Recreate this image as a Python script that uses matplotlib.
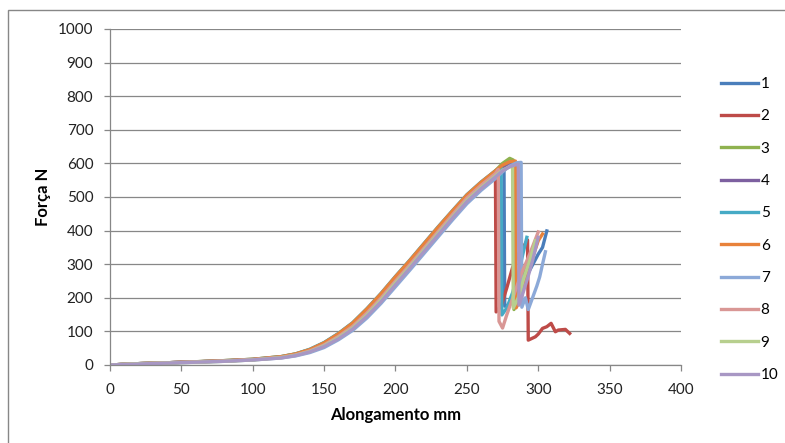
import matplotlib.pyplot as plt
from matplotlib.patches import Rectangle

plt.rcParams['font.family'] = ['Lato', 'DejaVu Sans']

# alongamento (mm) / força (N) per specimen
x1 = [0, 20, 50, 80, 100, 120, 130, 140, 150, 160, 170, 180, 190, 200, 210, 220, 230, 240, 250, 260, 270, 276, 276.5, 280, 285, 290, 295, 300, 303, 306]
f1 = [0, 4, 8, 12, 16, 24, 32, 44, 63, 89, 120, 160, 206, 256, 304, 354, 404, 453, 501, 540, 574, 596, 175, 180, 215, 250, 290, 330, 350, 399]

x2 = [0, 20, 50, 80, 100, 120, 130, 140, 150, 160, 170, 180, 190, 200, 210, 220, 230, 240, 250, 260, 266, 270, 270.5, 274, 278, 282, 286, 290, 292.5, 293, 295, 298, 300, 303, 306, 309, 312, 314, 319, 322]
f2 = [0, 4, 8, 12, 16, 23, 31, 43, 61, 87, 118, 158, 203, 253, 301, 351, 401, 450, 499, 537, 560, 578, 158, 175, 230, 290, 330, 355, 372, 74, 78, 84, 92, 109, 114, 124, 99, 104, 106, 94]

x3 = [0, 20, 50, 80, 100, 120, 130, 140, 150, 160, 170, 180, 190, 200, 210, 220, 230, 240, 250, 260, 270, 275, 280, 282.5, 283, 287, 290, 294, 297]
f3 = [0, 4, 8, 13, 17, 25, 33, 46, 66, 93, 125, 166, 212, 262, 310, 360, 410, 458, 505, 543, 578, 600, 615, 610, 165, 220, 270, 320, 350]

x4 = [0, 20, 50, 80, 100, 120, 130, 140, 150, 160, 170, 180, 190, 200, 210, 220, 230, 240, 250, 260, 270, 275, 280, 283, 283.5, 287, 291, 295, 299]
f4 = [0, 4, 8, 12, 16, 23, 30, 42, 60, 85, 115, 155, 200, 250, 298, 348, 398, 448, 497, 535, 570, 588, 600, 602, 178, 200, 260, 310, 365]

x5 = [0, 20, 50, 80, 100, 120, 130, 140, 150, 160, 170, 180, 190, 200, 210, 220, 230, 240, 250, 260, 270, 274, 274.5, 278, 282, 287, 292]
f5 = [0, 4, 8, 13, 17, 25, 33, 47, 67, 94, 126, 168, 214, 264, 312, 362, 412, 460, 507, 545, 578, 590, 149, 170, 215, 290, 380]

x6 = [0, 20, 50, 80, 100, 120, 130, 140, 150, 160, 170, 180, 190, 200, 210, 220, 230, 240, 250, 260, 270, 275, 280, 284, 284.5, 288, 292, 296, 300, 303]
f6 = [0, 4, 8, 13, 17, 25, 33, 46, 66, 93, 125, 167, 213, 263, 311, 361, 411, 459, 506, 544, 578, 595, 605, 607, 170, 200, 270, 320, 370, 390]

x7 = [0, 20, 50, 80, 100, 120, 130, 140, 150, 160, 170, 180, 190, 200, 210, 220, 230, 240, 250, 260, 270, 275, 280, 285, 288, 288.5, 291, 293, 296, 299, 301, 303, 305]
f7 = [0, 3, 7, 11, 15, 21, 27, 37, 52, 75, 103, 140, 184, 233, 282, 332, 382, 432, 480, 520, 555, 575, 592, 602, 603, 172, 200, 165, 200, 235, 262, 300, 337]

x8 = [0, 20, 50, 80, 100, 120, 130, 140, 150, 160, 170, 180, 190, 200, 210, 220, 230, 240, 250, 260, 270, 272, 272.5, 275, 278, 283, 288, 294, 300]
f8 = [0, 4, 8, 12, 16, 23, 30, 42, 60, 85, 115, 155, 200, 250, 298, 348, 398, 448, 497, 535, 570, 582, 130, 110, 150, 210, 270, 330, 396]

x9 = [0, 20, 50, 80, 100, 120, 130, 140, 150, 160, 170, 180, 190, 200, 210, 220, 230, 240, 250, 260, 270, 275, 280, 282, 282.5, 286, 290, 294, 298]
f9 = [0, 4, 7, 11, 15, 22, 29, 40, 57, 81, 110, 149, 194, 244, 292, 342, 392, 441, 490, 528, 563, 580, 590, 590, 170, 200, 260, 310, 370]

x10 = [0, 20, 50, 80, 100, 120, 130, 140, 150, 160, 170, 180, 190, 200, 210, 220, 230, 240, 250, 260, 270, 275, 280, 285, 286, 286.5, 289, 293, 296, 300]
f10 = [0, 3, 7, 11, 15, 21, 28, 39, 55, 78, 107, 145, 189, 239, 288, 338, 388, 438, 486, 525, 560, 578, 590, 597, 597, 178, 210, 265, 310, 380]

labels = ['1', '2', '3', '4', '5', '6', '7', '8', '9', '10']
colors = ['#4A7EBB', '#BE4B48', '#8FB24F', '#7D60A0', '#46AAC5', '#E8823A',
          '#8CA9D8', '#D99795', '#B7CF8E', '#A897C4']

series = [(x1, f1), (x2, f2), (x3, f3), (x4, f4), (x5, f5),
          (x6, f6), (x7, f7), (x8, f8), (x9, f9), (x10, f10)]

fig = plt.figure(figsize=(7.85, 4.43), dpi=100)
ax = fig.add_axes([110 / 785, 78 / 443, 571 / 785, 336 / 443])

for (xs, fs), lab, c in zip(series, labels, colors):
    ax.plot(xs, fs, color=c, lw=2.4, label=lab, solid_joinstyle='round')

ax.set_xlim(0, 400)
ax.set_ylim(0, 1000)
ax.set_xticks(range(0, 401, 50))
ax.set_yticks(range(0, 1001, 100))
ax.grid(axis='y', color='#878787', lw=0.9)
ax.set_axisbelow(True)
for s in ['top', 'right']:
    ax.spines[s].set_visible(False)
for s in ['left', 'bottom']:
    ax.spines[s].set_color('#878787')
    ax.spines[s].set_linewidth(0.9)
ax.tick_params(colors='#878787', labelcolor='#222222', labelsize=11, length=4, width=0.9)
ax.tick_params(axis='y', pad=8)
ax.tick_params(axis='x', pad=9)

ax.set_xlabel('Alongamento mm', fontsize=12, fontweight='bold', labelpad=7)
ax.set_ylabel('Força N', fontsize=12, fontweight='bold', labelpad=5)

fig.legend(loc='upper left', bbox_to_anchor=(721 / 785, 1 - 77 / 443), frameon=False,
           fontsize=11, handlelength=2.4, handletextpad=0.2, labelspacing=1.2,
           borderpad=0, borderaxespad=0)

fig.add_artist(Rectangle((8 / 785, -0.1), 1.0, 1.1 - 10 / 443, transform=fig.transFigure,
                         fill=False, edgecolor='#878787', lw=1))

fig.savefig('out.png', dpi=100)
